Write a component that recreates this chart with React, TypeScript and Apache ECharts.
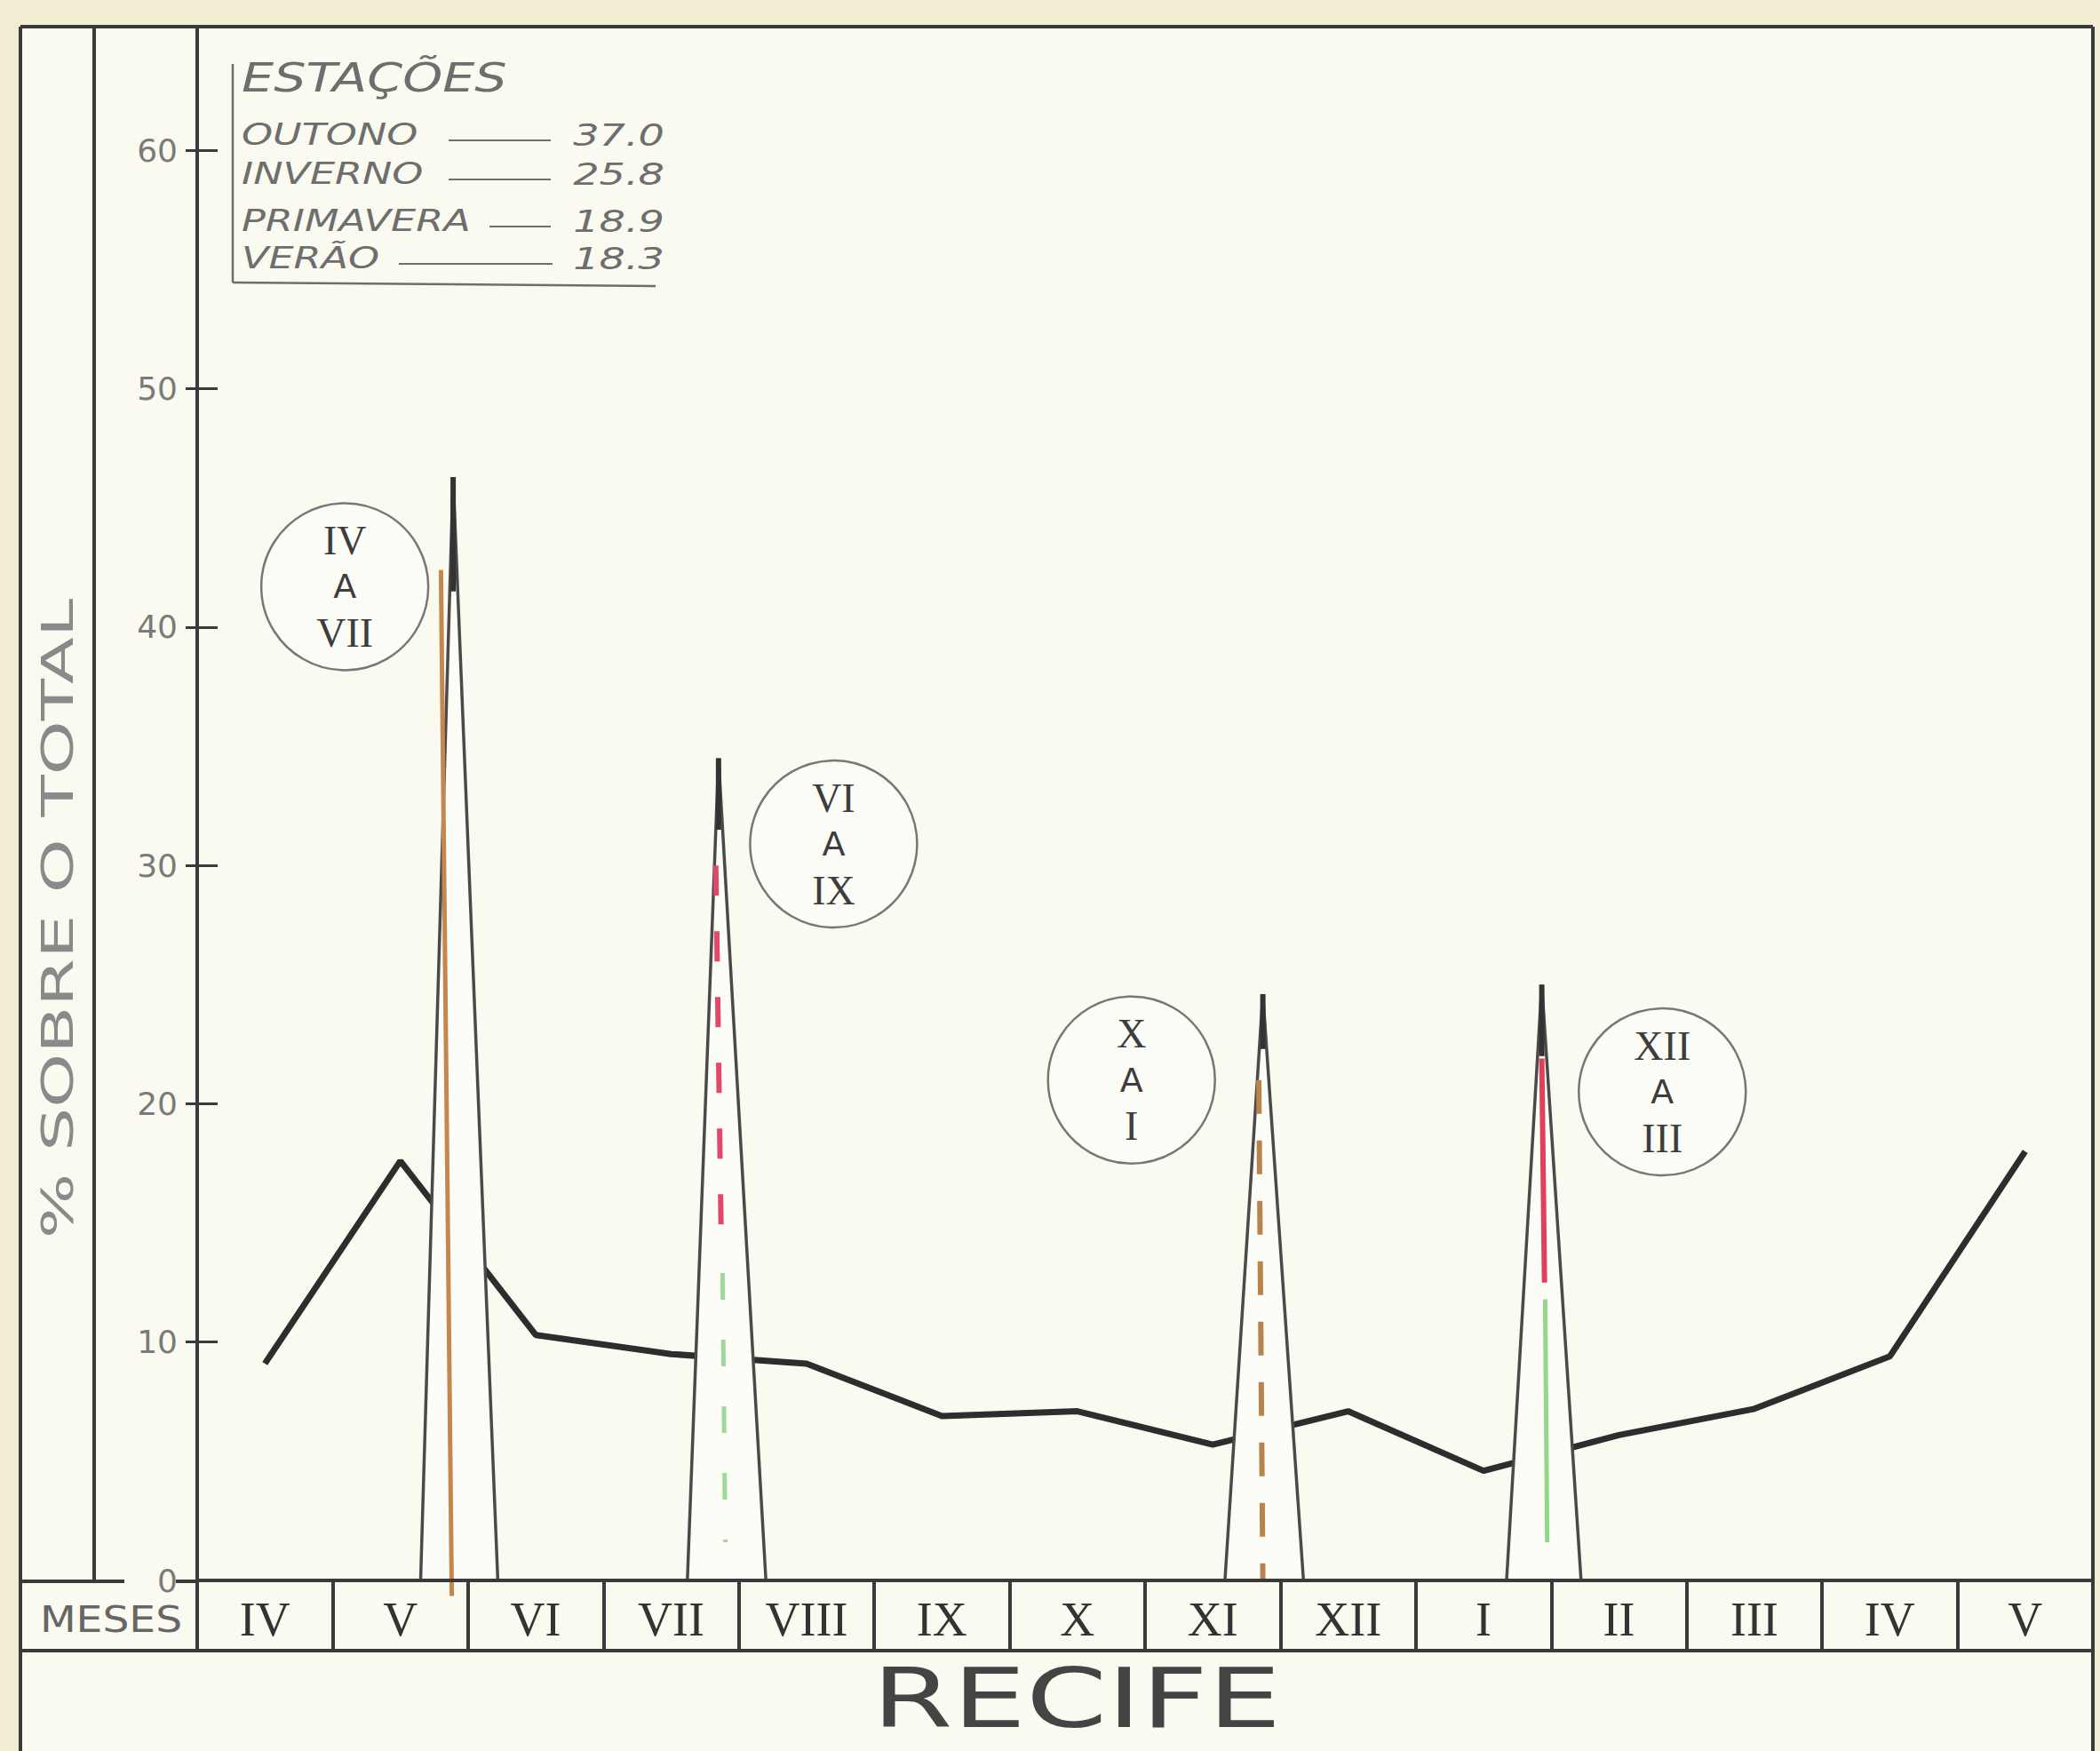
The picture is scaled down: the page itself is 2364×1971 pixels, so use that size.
import React, { useEffect, useRef } from "react";
import * as echarts from "echarts";

// ---- data ----
const months = ["IV", "V", "VI", "VII", "VIII", "IX", "X", "XI", "XII", "I", "II", "III", "IV", "V"];
const monthlyPct = [9.1, 17.6, 10.3, 9.5, 9.1, 6.9, 7.1, 5.7, 7.1, 4.6, 6.1, 7.2, 9.4, 18.0];

const seasonNames = ["OUTONO", "INVERNO", "PRIMAVERA", "VERÃO"];
const seasonValues = ["37.0", "25.8", "18.9", "18.3"];

const periodLabels = [["IV", "A", "VII"], ["VI", "A", "IX"], ["X", "A", "I"], ["XII", "A", "III"]];
const periodPeak = [46.3, 34.5, 24.6, 25.0];
const periodApex = [1.39, 3.35, 7.37, 9.43];
const periodBaseLeft = [1.15, 3.12, 7.09, 9.17];
const periodBaseRight = [1.72, 3.7, 7.67, 9.72];
const periodNoteAt = [[0.59, 41.7], [4.2, 30.9], [6.4, 21.0], [10.32, 20.5]];

// coloured marks inside the peaks
const outonoMark = [[1.3, 42.4], [1.38, -0.65]];
const invernoRed = [[3.33, 30.0], [3.37, 14.3]];
const invernoGreen = [[3.38, 12.9], [3.4, 1.6]];
const primaveraMark = [[7.34, 21.0], [7.37, 0]];
const veraoRed = [[9.43, 21.9], [9.45, 12.5]];
const veraoGreen = [[9.455, 11.8], [9.47, 1.6]];

// ---- styles / layout ----
const W = 2364;
const H = 1971;
const INK = "#3a3a3a";
const PENCIL = "#6e6e6e";
const TIP = [4.8, 3.0, 2.3, 3.0];

const line = (x1: number, y1: number, x2: number, y2: number, w = 4, c = INK) => ({
  type: "line",
  z: 10,
  silent: true,
  shape: { x1, y1, x2, y2 },
  style: { stroke: c, lineWidth: w },
});

const text = (t: string, x: number, y: number, o: any = {}) => ({
  type: "text",
  x,
  y,
  z: 10,
  silent: true,
  rotation: o.rotation || 0,
  scaleX: o.scaleX || 1,
  scaleY: 1,
  style: {
    text: t,
    fontSize: o.fontSize || 30,
    fontFamily: o.fontFamily || "DejaVu Sans",
    fontStyle: o.fontStyle || "normal",
    fontWeight: o.fontWeight || "normal",
    fill: o.fill || PENCIL,
    align: o.align || "left",
    textAlign: o.align || "left",
    verticalAlign: "middle",
    textVerticalAlign: "middle",
  },
});

export default function App() {
  const ref = useRef<HTMLDivElement>(null);

  useEffect(() => {
    document.body.style.margin = "0";
    if (!ref.current) return;
    const chart = echarts.init(ref.current, undefined, { renderer: "svg", width: W, height: H });

    const legendRowsY = [152, 196, 249, 291];
    const legendDash = [
      [505, 620],
      [505, 620],
      [551, 620],
      [449, 622],
    ];

    const graphic: any[] = [
      {
        type: "rect",
        z: -1,
        silent: true,
        shape: { x: 23, y: 30, width: 2333, height: H - 30 },
        style: { fill: "#fafaf0" },
      },
      line(23, 30, 2356, 30),
      line(23, 30, 23, H),
      line(2356, 30, 2356, H),
      line(106, 30, 106, 1779),
      line(23, 1780, 140, 1780),
      line(198, 1780, 222, 1780),
      line(23, 1858, 2356, 1858),
      text("% SOBRE O TOTAL", 64, 1034, {
        rotation: Math.PI / 2,
        fontSize: 50,
        scaleX: 1.55,
        align: "center",
        fill: "#8a8a8a",
      }),
      text("MESES", 125, 1823, { fontSize: 40, scaleX: 1.18, align: "center", fill: "#666" }),
      text("RECIFE", 1212, 1912, { fontSize: 92, scaleX: 1.42, align: "center", fill: "#444" }),
      // legend
      line(262, 72, 262, 318, 2.5, PENCIL),
      line(262, 318, 738, 322, 2.5, PENCIL),
      text("ESTAÇÕES", 272, 88, { fontSize: 44, fontStyle: "italic", scaleX: 1.3 }),
    ];
    seasonNames.forEach((n, i) => {
      graphic.push(text(n, 272, legendRowsY[i], { fontSize: 33, fontStyle: "italic", scaleX: 1.35 }));
      graphic.push(line(legendDash[i][0], legendRowsY[i] + 6, legendDash[i][1], legendRowsY[i] + 6, 2, PENCIL));
      graphic.push(
        text(seasonValues[i], 748, legendRowsY[i], { fontSize: 33, fontStyle: "italic", scaleX: 1.4, align: "right" })
      );
    });

    const series: any[] = [
      {
        type: "line",
        xAxisIndex: 0,
        yAxisIndex: 0,
        data: monthlyPct,
        symbol: "none",
        lineStyle: { color: "#2d2d2d", width: 7 },
        z: 2,
        silent: true,
      },
    ];

    periodPeak.forEach((p, i) => {
      series.push({
        type: "line",
        xAxisIndex: 1,
        yAxisIndex: 0,
        data: [
          [periodBaseLeft[i], 0],
          [periodApex[i], p],
          [periodBaseRight[i], 0],
        ],
        symbol: "none",
        lineStyle: { color: "#4a4a4a", width: 3.5 },
        areaStyle: { color: "#fdfdf8", opacity: 1 },
        z: 3,
        silent: true,
      });
      series.push({
        type: "line",
        xAxisIndex: 1,
        yAxisIndex: 0,
        data: [
          [periodApex[i], p],
          [periodApex[i], p - TIP[i]],
        ],
        symbol: "none",
        lineStyle: { color: "#333", width: 6 },
        z: 5,
        silent: true,
      });
    });

    const mark = (d: number[][], color: string, width: number, dash: any) => ({
      type: "line",
      xAxisIndex: 1,
      yAxisIndex: 0,
      data: d,
      symbol: "none",
      clip: false,
      lineStyle: { color, width, type: dash },
      z: 4,
      silent: true,
    });
    series.push(mark(outonoMark, "#c4874e", 5, "solid"));
    series.push(mark(invernoRed, "#e2486a", 6, [34, 40]));
    series.push(mark(invernoGreen, "#9fd89a", 5, [30, 45]));
    series.push(mark(primaveraMark, "#b9834f", 6, [38, 30]));
    series.push(mark(veraoRed, "#e0405c", 6, "solid"));
    series.push(mark(veraoGreen, "#8fd88a", 5, "solid"));

    series.push({
      type: "scatter",
      xAxisIndex: 1,
      yAxisIndex: 0,
      symbol: "circle",
      symbolSize: 188,
      silent: true,
      z: 6,
      itemStyle: { color: "#fcfcf6", borderColor: "#777", borderWidth: 2.5, opacity: 1 },
      label: {
        show: true,
        position: "inside",
        color: "#3d3d3d",
        rich: {
          r: { fontFamily: "Liberation Serif", fontSize: 46, lineHeight: 52, color: "#3d3d3d" },
          a: { fontFamily: "DejaVu Sans", fontSize: 38, lineHeight: 52, color: "#3d3d3d" },
        },
      },
      data: periodNoteAt.map((pos, i) => ({
        value: pos,
        label: {
          formatter: `{r|${periodLabels[i][0]}}\n{a|${periodLabels[i][1]}}\n{r|${periodLabels[i][2]}}`,
        },
      })),
    });

    const option: any = {
      animation: false,
      backgroundColor: "transparent",
      tooltip: { show: false },
      grid: { left: 222, right: W - 2356, top: 30, bottom: H - 1779, containLabel: false },
      xAxis: [
        {
          type: "category",
          data: months,
          boundaryGap: true,
          position: "bottom",
          z: 7,
          axisLine: { show: true, onZero: false, lineStyle: { color: INK, width: 4 } },
          axisTick: { show: true, interval: 0, length: 79, lineStyle: { color: INK, width: 4 } },
          axisLabel: {
            interval: 0,
            margin: 17,
            fontFamily: "Liberation Serif",
            fontSize: 54,
            color: "#333",
          },
          splitLine: { show: false },
        },
        { type: "value", min: -0.5, max: 13.5, show: false },
      ],
      yAxis: [
        {
          type: "value",
          min: 0,
          max: 65.2,
          interval: 10,
          axisLine: { show: true, onZero: false, lineStyle: { color: INK, width: 4 } },
          axisTick: { show: true, inside: false, length: 13, lineStyle: { color: INK, width: 3 } },
          axisLabel: {
            margin: 22,
            fontSize: 36,
            color: "#7a7a7a",
            fontFamily: "DejaVu Sans",
            showMaxLabel: false,
          },
          splitLine: { show: false },
        },
        {
          type: "value",
          min: 0,
          max: 65.2,
          interval: 10,
          position: "left",
          axisLine: { show: false, onZero: false },
          axisTick: { show: true, inside: true, length: 23, lineStyle: { color: INK, width: 3 } },
          axisLabel: { show: false },
          splitLine: { show: false },
        },
      ],
      graphic: { elements: graphic },
      series,
    };

    chart.setOption(option);
    return () => chart.dispose();
  }, []);

  return <div ref={ref} style={{ width: W, height: H, background: "#f1eed4" }} />;
}
